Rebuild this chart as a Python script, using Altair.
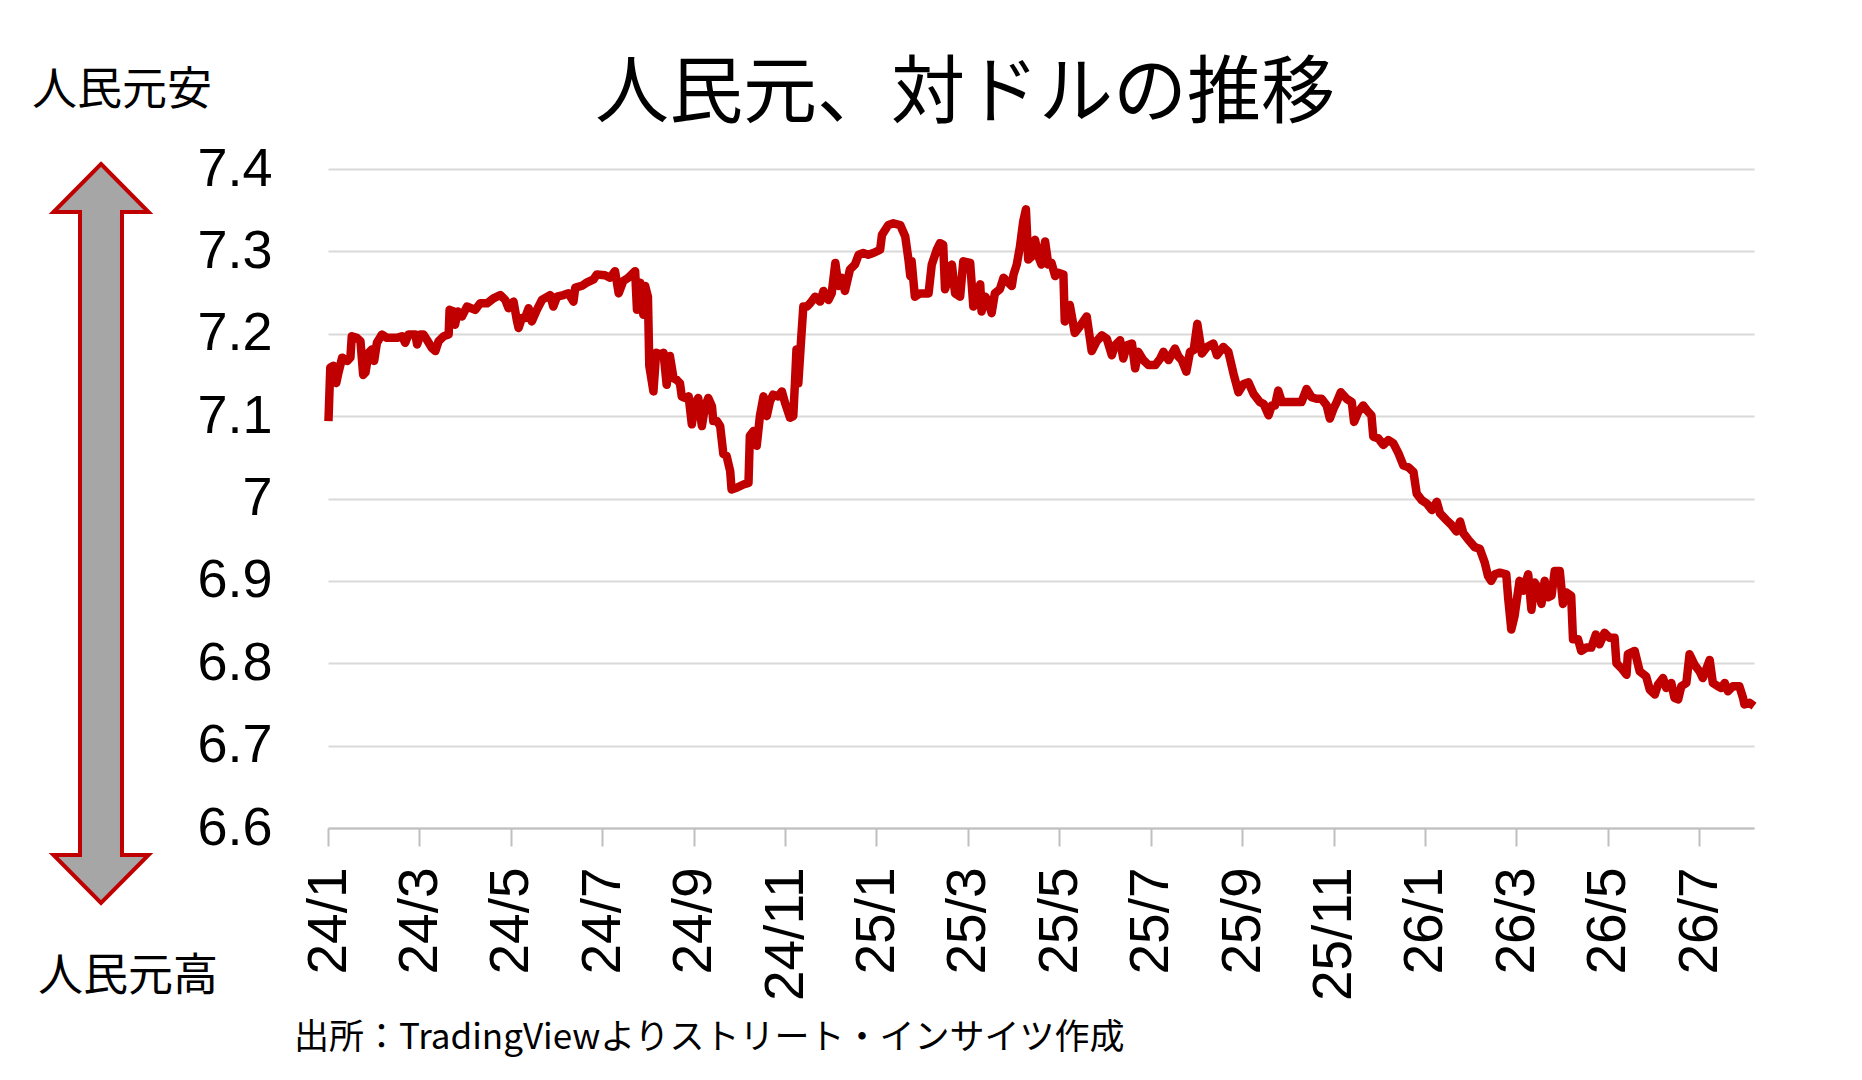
import altair as alt
import pandas as pd

# ---- data (month index from 24/1, CNY per USD) ----
months = [
    0.01, 0.05, 0.12, 0.18, 0.23, 0.31, 0.42, 0.49, 0.52, 0.63, 0.71, 0.77, 0.82, 0.89, 0.96,
    1.01, 1.07, 1.18, 1.29, 1.51, 1.62, 1.69, 1.76, 1.91, 1.95, 2.02, 2.09, 2.16, 2.27, 2.35,
    2.42, 2.53, 2.64, 2.66, 2.75, 2.78, 2.84, 2.93, 3.04, 3.22, 3.33, 3.48, 3.62, 3.77, 3.88,
    3.95, 4.06, 4.13, 4.17, 4.24, 4.31, 4.39, 4.46, 4.57, 4.68, 4.86, 4.93, 5.01, 5.15, 5.26,
    5.37, 5.41, 5.55, 5.66, 5.81, 5.88, 6.06, 6.17, 6.28, 6.36, 6.46, 6.57, 6.72, 6.76, 6.83,
    6.90, 6.94, 7.00, 7.03, 7.12, 7.18, 7.27, 7.34, 7.41, 7.48, 7.56, 7.63, 7.70, 7.74, 7.81,
    7.89, 7.96, 8.03, 8.10, 8.18, 8.25, 8.32, 8.40, 8.43, 8.51, 8.58, 8.65, 8.72, 8.80, 8.83,
    8.94, 9.09, 9.20, 9.23, 9.31, 9.38, 9.45, 9.53, 9.60, 9.67, 9.74, 9.85, 9.93, 10.00, 10.11,
    10.18, 10.22, 10.25, 10.29, 10.36, 10.40, 10.48, 10.55, 10.66, 10.77, 10.84, 10.95, 11.02, 11.10, 11.17,
    11.24, 11.31, 11.42, 11.53, 11.61, 11.71, 11.82, 11.93, 12.08, 12.12, 12.26, 12.37, 12.52, 12.63, 12.70,
    12.74, 12.77, 12.84, 12.95, 13.14, 13.21, 13.32, 13.39, 13.46, 13.50, 13.57, 13.65, 13.72, 13.83, 13.90,
    14.05, 14.12, 14.19, 14.27, 14.30, 14.38, 14.45, 14.52, 14.59, 14.70, 14.78, 14.89, 14.96, 15.00, 15.07,
    15.14, 15.21, 15.27, 15.32, 15.40, 15.47, 15.54, 15.61, 15.69, 15.76, 15.83, 15.91, 15.98, 16.09, 16.12,
    16.23, 16.34, 16.45, 16.60, 16.71, 16.82, 16.93, 17.04, 17.15, 17.22, 17.33, 17.40, 17.48, 17.59, 17.66,
    17.73, 17.84, 17.95, 18.10, 18.21, 18.28, 18.39, 18.53, 18.61, 18.68, 18.78, 18.86, 18.94, 19.02, 19.12,
    19.23, 19.37, 19.45, 19.59, 19.70, 19.81, 19.92, 20.03, 20.14, 20.25, 20.39, 20.47, 20.58, 20.65, 20.72,
    20.79, 20.87, 20.98, 21.12, 21.30, 21.41, 21.52, 21.63, 21.74, 21.85, 21.92, 22.00, 22.07, 22.16, 22.29,
    22.40, 22.45, 22.54, 22.65, 22.73, 22.83, 22.87, 22.98, 23.09, 23.20, 23.31, 23.42, 23.53, 23.64, 23.75,
    23.82, 23.93, 24.04, 24.15, 24.26, 24.33, 24.47, 24.58, 24.69, 24.77, 24.84, 24.95, 25.09, 25.20, 25.31,
    25.38, 25.45, 25.53, 25.64, 25.78, 25.82, 25.89, 25.96, 26.07, 26.15, 26.26, 26.33, 26.40, 26.47, 26.55,
    26.62, 26.69, 26.77, 26.84, 26.95, 27.02, 27.09, 27.20, 27.24, 27.35, 27.42, 27.53, 27.64, 27.74, 27.82,
    27.93, 28.04, 28.15, 28.19, 28.30, 28.41, 28.44, 28.59, 28.70, 28.84, 28.92, 29.03, 29.10, 29.21, 29.28,
    29.39, 29.46, 29.54, 29.61, 29.72, 29.79, 29.90, 30.01, 30.08, 30.15, 30.23, 30.30, 30.41, 30.48, 30.56,
    30.63, 30.74, 30.88, 30.96, 30.99, 31.10, 31.20,
]
rates = [
    7.094, 7.159, 7.161, 7.140, 7.153, 7.171, 7.167, 7.171, 7.197, 7.195, 7.191, 7.150, 7.153, 7.177, 7.181,
    7.167, 7.189, 7.199, 7.195, 7.195, 7.197, 7.189, 7.199, 7.199, 7.187, 7.199, 7.199, 7.193, 7.183, 7.179,
    7.191, 7.197, 7.199, 7.229, 7.227, 7.211, 7.227, 7.221, 7.233, 7.229, 7.237, 7.237, 7.243, 7.247, 7.241,
    7.231, 7.239, 7.217, 7.207, 7.219, 7.219, 7.231, 7.215, 7.229, 7.241, 7.247, 7.233, 7.245, 7.247, 7.249,
    7.239, 7.256, 7.258, 7.262, 7.266, 7.272, 7.271, 7.268, 7.276, 7.249, 7.264, 7.268, 7.276, 7.229, 7.262,
    7.223, 7.258, 7.245, 7.161, 7.130, 7.177, 7.175, 7.177, 7.138, 7.173, 7.146, 7.144, 7.140, 7.124, 7.122,
    7.124, 7.090, 7.116, 7.122, 7.088, 7.112, 7.122, 7.112, 7.094, 7.094, 7.088, 7.054, 7.052, 7.033, 7.011,
    7.013, 7.017, 7.019, 7.076, 7.082, 7.064, 7.100, 7.124, 7.100, 7.118, 7.126, 7.124, 7.130, 7.116, 7.098,
    7.100, 7.144, 7.181, 7.140, 7.200, 7.233, 7.233, 7.237, 7.245, 7.239, 7.252, 7.241, 7.249, 7.286, 7.258,
    7.268, 7.252, 7.278, 7.284, 7.296, 7.298, 7.296, 7.298, 7.302, 7.320, 7.332, 7.334, 7.332, 7.318, 7.290,
    7.270, 7.288, 7.245, 7.249, 7.249, 7.284, 7.302, 7.310, 7.308, 7.254, 7.266, 7.284, 7.249, 7.245, 7.288,
    7.286, 7.233, 7.237, 7.260, 7.227, 7.245, 7.239, 7.225, 7.249, 7.254, 7.268, 7.262, 7.258, 7.272, 7.284,
    7.306, 7.336, 7.351, 7.290, 7.294, 7.314, 7.294, 7.284, 7.312, 7.284, 7.286, 7.270, 7.274, 7.272, 7.215,
    7.235, 7.201, 7.209, 7.221, 7.179, 7.191, 7.198, 7.194, 7.174, 7.186, 7.192, 7.170, 7.186, 7.188, 7.158,
    7.178, 7.168, 7.162, 7.162, 7.170, 7.178, 7.168, 7.182, 7.172, 7.168, 7.154, 7.178, 7.180, 7.212, 7.176,
    7.184, 7.188, 7.174, 7.184, 7.178, 7.152, 7.129, 7.139, 7.141, 7.127, 7.117, 7.115, 7.101, 7.113, 7.113,
    7.131, 7.117, 7.117, 7.117, 7.117, 7.133, 7.123, 7.121, 7.121, 7.113, 7.097, 7.109, 7.117, 7.129, 7.121,
    7.117, 7.093, 7.105, 7.113, 7.107, 7.101, 7.075, 7.073, 7.065, 7.071, 7.067, 7.055, 7.040, 7.038, 7.032,
    7.006, 6.998, 6.994, 6.986, 6.996, 6.982, 6.974, 6.968, 6.960, 6.972, 6.958, 6.950, 6.941, 6.939, 6.922,
    6.906, 6.900, 6.908, 6.910, 6.908, 6.880, 6.841, 6.857, 6.900, 6.888, 6.908, 6.865, 6.898, 6.892, 6.872,
    6.900, 6.880, 6.882, 6.912, 6.912, 6.872, 6.886, 6.882, 6.829, 6.829, 6.815, 6.819, 6.819, 6.835, 6.823,
    6.837, 6.831, 6.831, 6.800, 6.794, 6.786, 6.811, 6.815, 6.790, 6.784, 6.768, 6.762, 6.774, 6.782, 6.770,
    6.776, 6.758, 6.756, 6.772, 6.776, 6.811, 6.798, 6.790, 6.782, 6.792, 6.804, 6.776, 6.772, 6.770, 6.776,
    6.766, 6.772, 6.772, 6.758, 6.750, 6.752, 6.748,
]

x_tick_values = [0, 2, 4, 6, 8, 10, 12, 14, 16, 18, 20, 22, 24, 26, 28, 30]
x_tick_labels = ["24/1", "24/3", "24/5", "24/7", "24/9", "24/11", "25/1", "25/3",
                 "25/5", "25/7", "25/9", "25/11", "26/1", "26/3", "26/5", "26/7"]
y_tick_values = [6.6, 6.7, 6.8, 6.9, 7.0, 7.1, 7.2, 7.3, 7.4]

title_text = "人民元、対ドルの推移"
top_label = "人民元安"
bottom_label = "人民元高"
source_text = "出所：TradingViewよりストリート・インサイツ作成"

df = pd.DataFrame({"m": months, "rate": rates})

W, H = 1426, 659
JP = "Noto Sans CJK JP"
NUM = "Liberation Sans"

label_expr = "[" + ",".join("'" + s + "'" for s in x_tick_labels) + "][round(datum.value / 2)]"

line = alt.Chart(df).mark_line(color="#C00000", strokeWidth=8.5, strokeJoin="round").encode(
    x=alt.X("m:Q",
            scale=alt.Scale(domain=[0, 31.2], nice=False, zero=False),
            axis=alt.Axis(values=x_tick_values, labelExpr=label_expr, labelAngle=270,
                          labelAlign="right", labelBaseline="middle",
                          labelFont=NUM, labelFontSize=55, labelColor="black",
                          labelPadding=21, labelFlush=False, labelOverlap=False, labelBound=False,
                          tickSize=18, tickColor="#BFBFBF", tickWidth=2,
                          domainColor="#BFBFBF", domainWidth=2, grid=False, title=None)),
    y=alt.Y("rate:Q",
            scale=alt.Scale(domain=[6.6, 7.4], nice=False, zero=False),
            axis=alt.Axis(values=y_tick_values, format=".1~f",
                          labelFont=NUM, labelFontSize=54, labelColor="black",
                          labelPadding=56, labelFlush=False, labelOverlap=False,
                          ticks=False, domain=False, grid=True,
                          gridColor="#D9D9D9", gridWidth=2, title=None)),
)

ARROW_PATH = ("M0,-1 L0.1286,-0.870 L0.0568,-0.870 L0.0568,0.870 L0.1286,0.870 "
              "L0,1 L-0.1286,0.870 L-0.0568,0.870 L-0.0568,-0.870 L-0.1286,-0.870 Z")

arrow = alt.Chart(pd.DataFrame({"a": [0]})).mark_point(
    shape=ARROW_PATH, size=546121, filled=True, fill="#A6A6A6", stroke="#C00000",
    strokeWidth=4, opacity=1, fillOpacity=1, strokeOpacity=1
).encode(x=alt.value(-227), y=alt.value(364.5))


def text_layer(txt, x, y, size, align="left"):
    return alt.Chart(pd.DataFrame({"t": [txt]})).mark_text(
        font=JP, fontSize=size, align=align, baseline="middle", color="black"
    ).encode(text="t:N", x=alt.value(x), y=alt.value(y))


title = text_layer(title_text, 637, -74, 74, align="center")
top = text_layer(top_label, -296, -78, 45)
bottom = text_layer(bottom_label, -290, 808, 45)
source = text_layer(source_text, -34, 869, 35)

chart = alt.layer(line, arrow, title, top, bottom, source).properties(
    width=W, height=H,
    padding={"left": 320, "top": 161, "right": 100, "bottom": 244},
    autosize=alt.AutoSizeParams(type="none"),
    background="white",
).configure_view(stroke=None)

chart.save("out.html", embed_options={"renderer": "svg", "actions": False})
